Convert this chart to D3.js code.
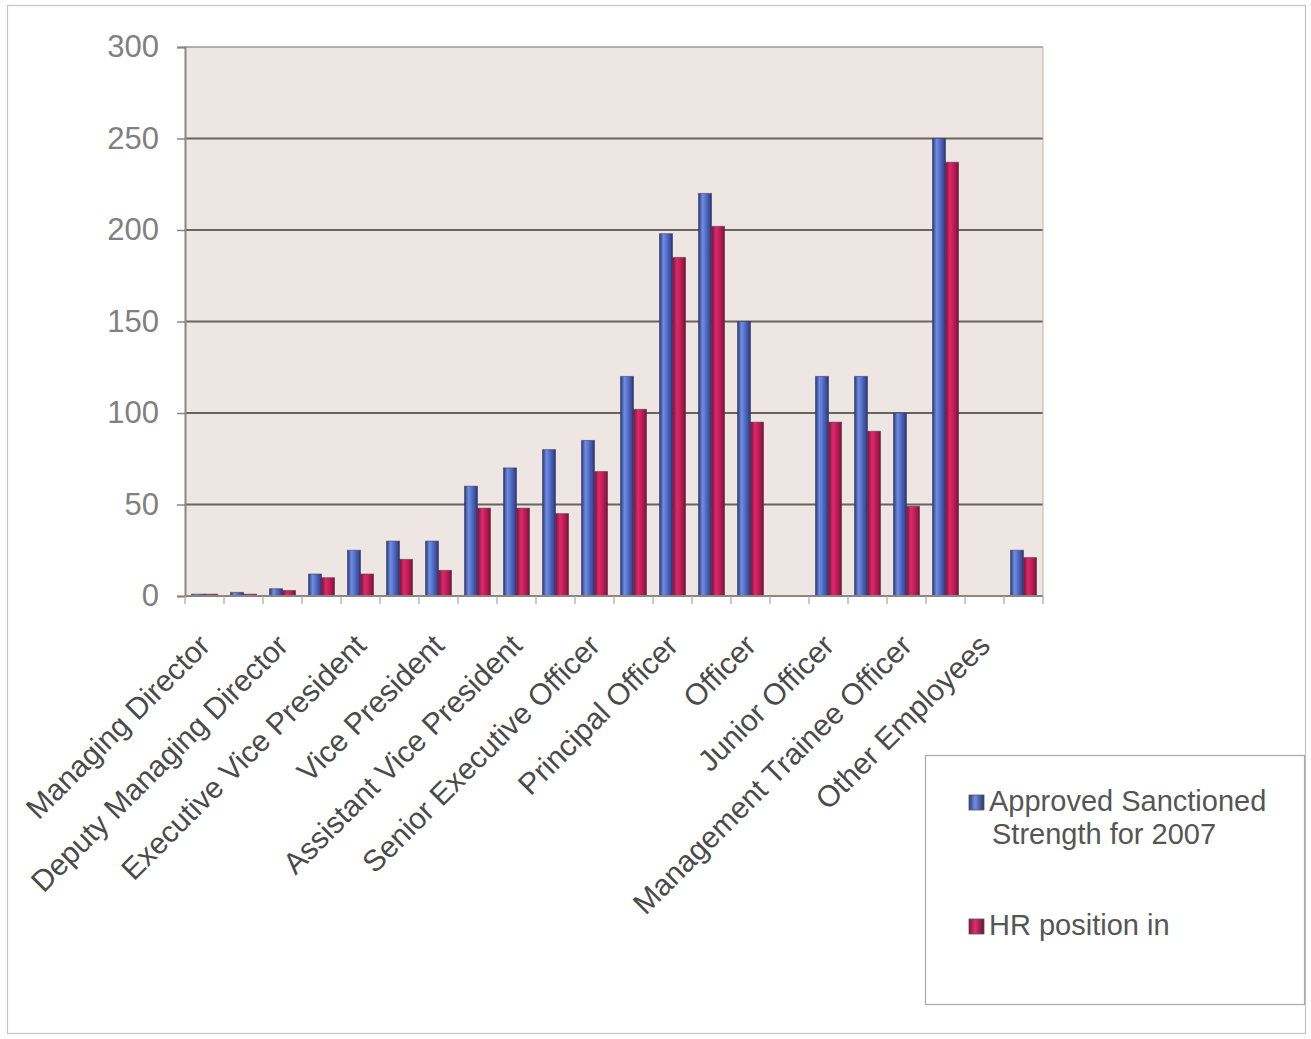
<!DOCTYPE html>
<html>
<head>
<meta charset="utf-8">
<script src="https://cdn.jsdelivr.net/npm/d3@7"></script>
<style>
  html, body { margin: 0; padding: 0; background: #ffffff; }
  svg { display: block; }
  text { font-family: Arial, "Liberation Sans", sans-serif; }
</style>
</head>
<body>
<svg id="chart" width="1311" height="1039"></svg>
<script>
// Staff strength by grade: 22 grade slots, labels shown on every other slot
const tickLabels = [
  "Managing Director", "Deputy Managing Director", "Executive  Vice President",
  "Vice President", "Assistant Vice President", "Senior Executive Officer",
  "Principal Officer", "Officer", "Junior Officer",
  "Management Trainee Officer", "Other Employees"
];
const slotCount = 22;
const approvedStrength = [1, 2, 4, 12, 25, 30, 30, 60, 70, 80, 85, 120, 198, 220, 150, 0, 120, 120, 100, 250, 0, 25];
const hrPosition       = [1, 1, 3, 10, 12, 20, 14, 48, 48, 45, 68, 102, 185, 202, 95, 0, 95, 90, 49, 237, 0, 21];
const seriesNames = ["Approved Sanctioned Strength for 2007", "HR position in"];
const yTicks = [0, 50, 100, 150, 200, 250, 300];

const svg = d3.select("#chart");
const plot = { left: 185, right: 1043, top: 47, bottom: 596 };

// gradients giving the bars their rounded look
const defs = svg.append("defs");
function barGradient(id, stops) {
  const g = defs.append("linearGradient").attr("id", id)
    .attr("x1", "0%").attr("x2", "100%").attr("y1", "0%").attr("y2", "0%");
  stops.forEach(([o, c]) => g.append("stop").attr("offset", o).attr("stop-color", c));
}
barGradient("gBlue", [["0%", "#26357e"], ["30%", "#6f8de2"], ["55%", "#5570c8"], ["85%", "#3a4a9c"], ["100%", "#28326a"]]);
barGradient("gRed", [["0%", "#820e38"], ["35%", "#da2b6c"], ["60%", "#c41d58"], ["88%", "#9a1443"], ["100%", "#6a0f2e"]]);
barGradient("gBlueKey", [["0%", "#2a3a86"], ["40%", "#7290e0"], ["100%", "#2b356f"]]);
barGradient("gRedKey", [["0%", "#8a0f3c"], ["40%", "#dc3070"], ["100%", "#6e1030"]]);

// outer chart frame
svg.append("rect").attr("x", 7.5).attr("y", 5.5).attr("width", 1298).attr("height", 1028)
  .attr("fill", "none").attr("stroke", "#c4c4c4").attr("stroke-width", 1.2);

const x = d3.scaleBand().domain(d3.range(slotCount)).range([plot.left, plot.right]).padding(0);
const bw = x.bandwidth();
const xs = d3.scaleBand().domain([0, 1]).range([bw / 6, bw * 5 / 6]).padding(0);
const y = d3.scaleLinear().domain([0, 300]).range([plot.bottom, plot.top]);

// plot area background
svg.append("rect").attr("x", plot.left).attr("y", plot.top)
  .attr("width", plot.right - plot.left).attr("height", plot.bottom - plot.top)
  .attr("fill", "#eee6e3");

// horizontal gridlines
svg.append("g").selectAll("line").data(yTicks.filter(t => t > 0)).join("line")
  .attr("x1", plot.left).attr("x2", plot.right)
  .attr("y1", d => y(d)).attr("y2", d => y(d))
  .attr("stroke", d => d === 300 ? "#9c9896" : "#6c635e")
  .attr("stroke-width", d => d === 300 ? 1.5 : 2);

// right edge of plot area
svg.append("line").attr("x1", plot.right).attr("x2", plot.right)
  .attr("y1", plot.top).attr("y2", plot.bottom)
  .attr("stroke", "#b8b4b2").attr("stroke-width", 1);

// bars
const rows = d3.range(slotCount).map(i => [approvedStrength[i], hrPosition[i]]);
const grp = svg.append("g").selectAll("g").data(rows).join("g")
  .attr("transform", (d, i) => `translate(${x(i)},0)`);
grp.selectAll("rect").data(d => d.map((v, k) => ({ v, k }))).join("rect")
  .filter(d => d.v > 0)
  .attr("x", d => xs(d.k))
  .attr("y", d => y(d.v))
  .attr("width", xs.bandwidth())
  .attr("height", d => y(0) - y(d.v))
  .attr("fill", d => d.k === 0 ? "url(#gBlue)" : "url(#gRed)")
  .attr("stroke", "#3c3a48").attr("stroke-opacity", 0.55).attr("stroke-width", 1);

// y axis
const yAxis = d3.axisLeft(y).tickValues(yTicks).tickSize(8).tickPadding(18);
const gy = svg.append("g").attr("transform", `translate(${plot.left},0)`).call(yAxis);
gy.select(".domain").attr("stroke", "#8a8684").attr("stroke-width", 2);
gy.selectAll(".tick line").attr("stroke", "#8a8684").attr("stroke-width", 1.5);
gy.selectAll(".tick text").attr("font-size", 31).attr("fill", "#808080")
  .attr("font-family", "Arial, 'Liberation Sans', sans-serif");

// x axis: ticks on slot boundaries
const boundaries = d3.range(slotCount + 1).map(i => plot.left + i * bw);
svg.append("line").attr("x1", plot.left).attr("x2", plot.right)
  .attr("y1", plot.bottom).attr("y2", plot.bottom)
  .attr("stroke", "#8a8684").attr("stroke-width", 2);
svg.append("g").selectAll("line").data(boundaries).join("line")
  .attr("x1", d => d).attr("x2", d => d)
  .attr("y1", plot.bottom).attr("y2", plot.bottom + 8)
  .attr("stroke", "#a8a4a2").attr("stroke-width", 1.2);

// category labels on every other slot
svg.append("g").selectAll("text").data(tickLabels).join("text")
  .attr("transform", (d, i) => {
    const cx = x(i * 2) + bw / 2;
    return `translate(${cx},${plot.bottom + 44}) rotate(-45)`;
  })
  .attr("text-anchor", "end")
  .attr("dy", "0.35em")
  .attr("font-size", 30)
  .attr("fill", "#4a4a4a")
  .text(d => d);

// legend
const lg = svg.append("g");
lg.append("rect").attr("x", 925.5).attr("y", 755.5).attr("width", 379).attr("height", 249)
  .attr("fill", "#ffffff").attr("stroke", "#a9a9a9").attr("stroke-width", 1.2);
const keys = [
  { name: seriesNames[0], fill: "url(#gBlueKey)", y: 795, lines: ["Approved Sanctioned", "Strength for 2007"] },
  { name: seriesNames[1], fill: "url(#gRedKey)", y: 919, lines: ["HR position in"] }
];
keys.forEach(k => {
  lg.append("rect").attr("x", 969).attr("y", k.y).attr("width", 15).attr("height", 15)
    .attr("fill", k.fill).attr("stroke", "#555").attr("stroke-width", 0.8);
  const t = lg.append("text").attr("x", 989).attr("y", k.y + 16)
    .attr("font-size", 29).attr("fill", "#555");
  k.lines.forEach((ln, j) => t.append("tspan").attr("x", j === 0 ? 989 : 992)
    .attr("dy", j === 0 ? 0 : 33).text(ln));
});
</script>
</body>
</html>
